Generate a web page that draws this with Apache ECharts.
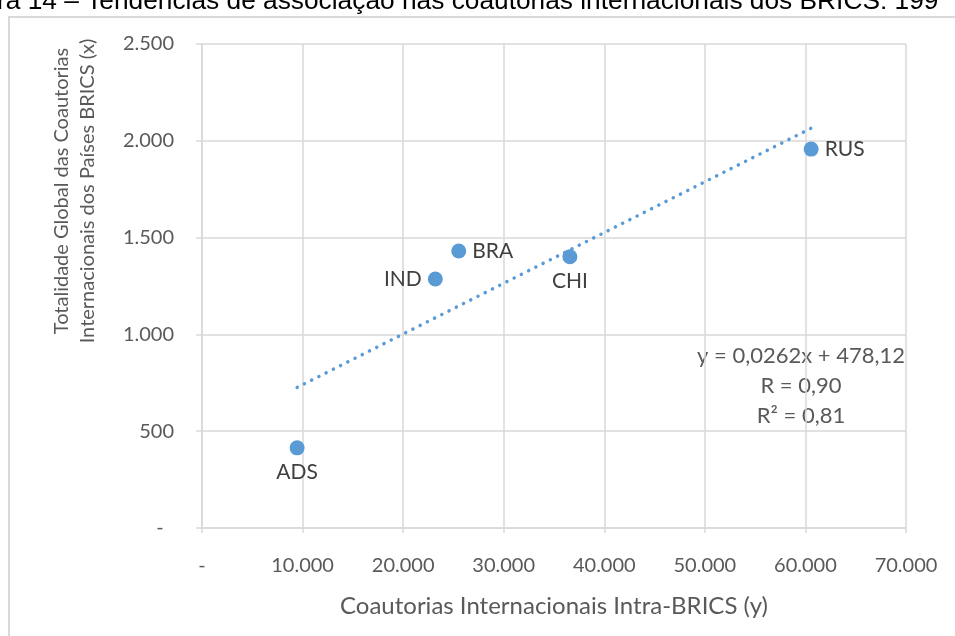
<!DOCTYPE html>
<html>
<head>
<meta charset="utf-8">
<script src="https://cdn.jsdelivr.net/npm/echarts@6/dist/echarts.min.js"></script>
<style>
  html, body { margin: 0; padding: 0; background: #fff; }
  #chart { width: 955px; height: 636px; }
</style>
</head>
<body>
<div id="chart"></div>
<script>
// países e valores
const countries = ['ADS', 'IND', 'BRA', 'CHI', 'RUS']
const intraBrics = [9460, 23200, 25530, 36580, 60570] // eixo x
const globalTotal = [414, 1286, 1431, 1401, 1957] // eixo y
const labelPos = ['bottom', 'left', 'right', 'bottom', 'right']

// linha de tendência (Excel)
const slope = 0.0262
const intercept = 478.12
const eqLines = ['y = 0,0262x + 478,12', 'R = 0,90', 'R² = 0,81']

const xTicks = { min: 0, max: 70000, interval: 10000 }
const yTicks = { min: 0, max: 2500, interval: 500 }

const FONT = 'Lato'
const TXT = '#595959'
const GRID = '#d9d9d9'
const BLUE = '#5b9bd5'

const fmt = (v) => (v === 0 ? '-' : String(v).replace(/\B(?=(\d{3})+(?!\d))/g, '.'))

const xMin = Math.min(...intraBrics)
const xMax = Math.max(...intraBrics)
const trend = [xMin, xMax].map((x) => [x, slope * x + intercept])

const myChart = echarts.init(document.getElementById('chart'))

const option = {
  animation: false,
  textStyle: { fontFamily: FONT },
  grid: { left: 202, right: 49, top: 44, bottom: 108 },
  xAxis: {
    type: 'value',
    min: xTicks.min,
    max: xTicks.max,
    interval: xTicks.interval,
    name: 'Coautorias Internacionais Intra-BRICS (y)',
    nameLocation: 'middle',
    nameGap: 66,
    nameTextStyle: { color: TXT, fontSize: 24, fontFamily: FONT },
    axisLine: { show: true, lineStyle: { color: GRID, width: 1.5 } },
    axisTick: { show: true, length: 5, lineStyle: { color: GRID, width: 1.5 } },
    axisLabel: { color: TXT, fontSize: 20, margin: 28, formatter: fmt },
    splitLine: { show: true, lineStyle: { color: GRID, width: 1.5 } },
  },
  yAxis: {
    type: 'value',
    min: yTicks.min,
    max: yTicks.max,
    interval: yTicks.interval,
    axisLine: { show: true, lineStyle: { color: GRID, width: 1.5 } },
    axisTick: { show: true, length: 6, lineStyle: { color: GRID, width: 1.5 } },
    axisLabel: {
      color: TXT,
      fontSize: 20,
      margin: 28,
      formatter: (v) => (v === 0 ? '-  ' : fmt(v)),
    },
    splitLine: { show: true, lineStyle: { color: GRID, width: 1.5 } },
  },
  graphic: [
    // moldura do gráfico
    {
      type: 'rect',
      shape: { x: 9, y: 17, width: 960, height: 640 },
      style: { fill: 'none', stroke: GRID, lineWidth: 2 },
      silent: true,
    },
    // título cortado no topo
    {
      type: 'text',
      left: -3,
      top: -11,
      style: {
        text: 'ra 14 – Tendências de associação nas coautorias internacionais dos BRICS: 199',
        font: '26.3px "Liberation Sans"',
        fill: '#000',
      },
    },
    // título do eixo y
    {
      type: 'text',
      x: 75,
      y: 191,
      rotation: Math.PI / 2,
      style: {
        text: 'Totalidade Global das Coautorias\nInternacionais dos Países BRICS (x)',
        font: '20px ' + FONT,
        fill: TXT,
        align: 'center',
        verticalAlign: 'middle',
        lineHeight: 26,
      },
    },
    // equação da tendência
    ...eqLines.map((t, i) => ({
      type: 'text',
      x: 801,
      y: 356 + i * 30,
      style: {
        text: t,
        font: '22px ' + FONT,
        fill: TXT,
        align: 'center',
        verticalAlign: 'middle',
      },
    })),
  ],
  series: [
    {
      type: 'line',
      data: trend,
      showSymbol: false,
      symbol: 'none',
      z: 1,
      lineStyle: { color: BLUE, width: 3.5, type: [0.1, 8], cap: 'round' },
    },
    {
      type: 'scatter',
      symbol: 'circle',
      symbolSize: 15,
      z: 3,
      itemStyle: { color: BLUE, opacity: 1 },
      data: countries.map((c, i) => ({
        name: c,
        value: [intraBrics[i], globalTotal[i]],
        label: { position: labelPos[i] },
      })),
      label: {
        show: true,
        formatter: (p) => p.name,
        color: '#404040',
        fontSize: 21,
        distance: 6,
      },
    },
  ],
}

myChart.setOption(option)
</script>
</body>
</html>
